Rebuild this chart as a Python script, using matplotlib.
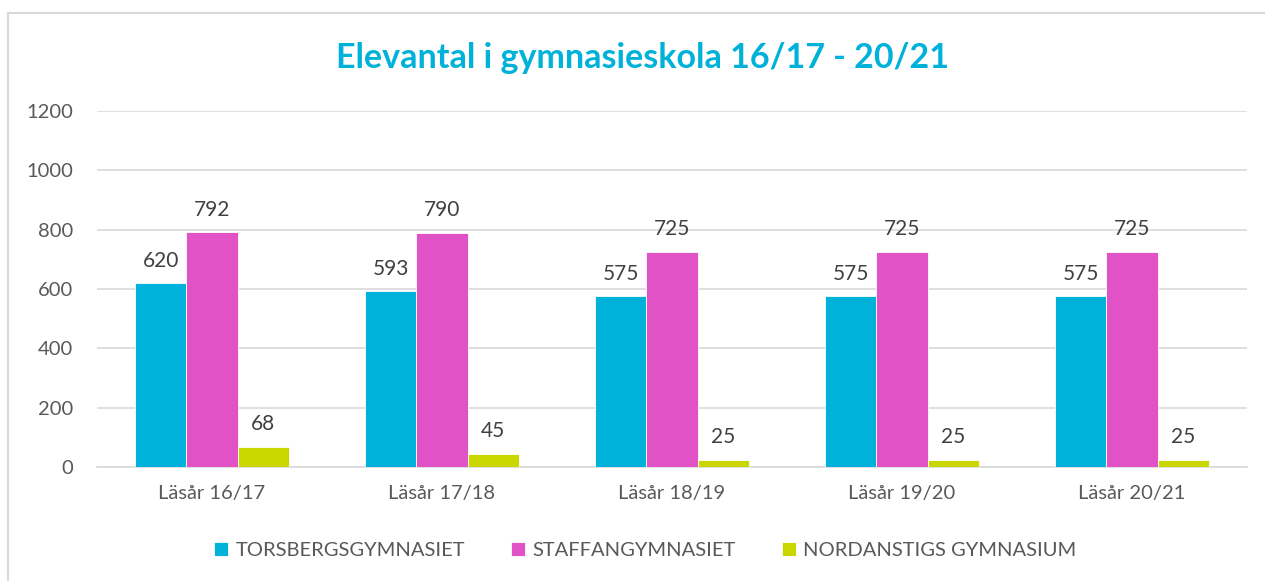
import numpy as np
import matplotlib.pyplot as plt
from matplotlib.lines import Line2D

categories = ['Läsår 16/17', 'Läsår 17/18', 'Läsår 18/19', 'Läsår 19/20', 'Läsår 20/21']
series_names = ['TORSBERGSGYMNASIET', 'STAFFANGYMNASIET', 'NORDANSTIGS GYMNASIUM']
torsberg = [620, 593, 575, 575, 575]
staffan = [792, 790, 725, 725, 725]
nordanstig = [68, 45, 25, 25, 25]
colors = ['#00B2D9', '#E052C6', '#C9D600']

plt.rcParams['font.family'] = ['Lato', 'DejaVu Sans']

fig = plt.figure(figsize=(12.65, 5.81), dpi=100)
ax = fig.add_axes([97 / 1265, 114 / 581, 1150 / 1265, 356 / 581])

x = np.arange(len(categories))
w = 0.222
for i, (vals, name) in enumerate(zip([torsberg, staffan, nordanstig], series_names)):
    pos = x + (i - 1) * w
    ax.bar(pos, vals, width=w, color=colors[i], edgecolor='white', linewidth=0.6, label=name, zorder=3)
    for p, v in zip(pos, vals):
        ax.annotate(str(v), (p, v), xytext=(0, 9), textcoords='offset points',
                    ha='center', va='bottom', fontsize=15, color='#404040')

ax.set_xlim(-0.5, 4.5)
ax.set_ylim(0, 1200)
ax.set_yticks(range(0, 1201, 200))
ax.yaxis.grid(True, color='#D9D9D9', linewidth=1.2, zorder=0)
ax.set_xticks(x)
ax.set_xticklabels(categories)
ax.tick_params(axis='both', length=0, labelsize=14.5, labelcolor='#595959')
ax.tick_params(axis='y', pad=17)
ax.tick_params(axis='x', pad=13)
for s in ['top', 'right', 'left']:
    ax.spines[s].set_visible(False)
ax.spines['bottom'].set_color('#D9D9D9')
ax.spines['bottom'].set_linewidth(1.2)

fig.text(0.508, 0.9, 'Elevantal i gymnasieskola 16/17 - 20/21', ha='center', va='center',
         fontsize=24.5, fontweight='bold', color='#00B2D9')

leg = fig.legend(loc='center', bbox_to_anchor=(0.51, 0.052), ncol=3, frameon=False,
                 fontsize=14.5, handlelength=0.7, handleheight=0.7, handletextpad=0.35,
                 columnspacing=2.3)
for t in leg.get_texts():
    t.set_color('#595959')

# outer chart frame (only top and left edges visible in the crop)
top = 1 - 13 / 581
left = 8 / 1265
fig.add_artist(Line2D([left, 1], [top, top], transform=fig.transFigure, color='#D9D9D9', linewidth=1.5))
fig.add_artist(Line2D([left, left], [0, top], transform=fig.transFigure, color='#D9D9D9', linewidth=1.5))

fig.savefig('out.png', dpi=100)
